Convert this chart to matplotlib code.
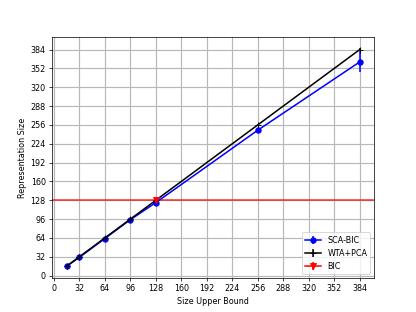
import matplotlib
matplotlib.use("Agg")
import matplotlib.pyplot as plt

bounds = [16, 32, 64, 96, 128, 256, 384]
sca_bic = [16, 31, 63, 95, 124, 247, 363]
sca_err = [1, 1, 1, 1, 2, 3, 18]
wta_pca = [16, 32, 64, 96, 128, 256, 384]
wta_err = [0, 0, 0, 0, 0, 0, 2]
bic_x = [128]
bic_y = [128]
ticks = list(range(0, 385, 32))

plt.rcParams["font.size"] = 8.8
plt.rcParams["lines.linewidth"] = 1.7

fig, ax = plt.subplots(figsize=(6.4, 4.8), dpi=65)
ax.errorbar(bounds, sca_bic, yerr=sca_err, fmt="o-", color="blue", label="SCA-BIC")
ax.errorbar(bounds, wta_pca, yerr=wta_err, fmt="+-", color="black", label="WTA+PCA")
ax.errorbar(bic_x, bic_y, yerr=[0], fmt="v-", color="red", label="BIC")
ax.axhline(128, color="red", linewidth=1.7, alpha=0.8)
ax.set_xticks(ticks)
ax.set_yticks(ticks)
ax.grid(True, linewidth=1.3, color="#b8b8b8")
ax.set_xlabel("Size Upper Bound")
ax.set_ylabel("Representation Size")
ax.legend(loc="lower right")
fig.savefig("out.png", dpi=65)
